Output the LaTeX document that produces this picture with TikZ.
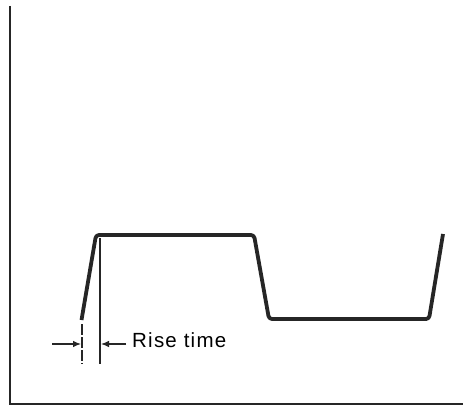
\documentclass[tikz,border=0pt]{standalone}
\usepackage{fontspec}
\setmainfont{Liberation Sans}[LetterSpace=6]
\usetikzlibrary{arrows.meta}
\begin{document}
\begin{tikzpicture}[x=1pt,y=-1pt,
  axis/.style={line width=2.4pt,draw=black!85},
  wave/.style={line width=3.8pt,draw=black!85,rounded corners=3pt,line join=round},
  guide/.style={line width=1.1pt,draw=black!85},
  dimarrow/.style={line width=1.1pt,draw=black!85,-{Latex[length=8pt,width=6.5pt]}},
  lbl/.style={inner sep=0pt,anchor=west,font=\fontsize{20.5}{24}\selectfont}]
\useasboundingbox (0,0) rectangle (463,406);
\fill[white] (0,0) rectangle (463,406);
% axes
\coordinate (ytop) at (10,6);
\coordinate (origin) at (10,404);
\coordinate (xend) at (463,404);
\draw[axis] (ytop) -- (origin) -- (xend);
% waveform
\coordinate (w0) at (81.5,320);
\coordinate (w1) at (96,235);
\coordinate (w2) at (254,235);
\coordinate (w3) at (269,319);
\coordinate (w4) at (429,319);
\coordinate (w5) at (443,234);
\draw[wave] (w0) -- (w1) -- (w2) -- (w3) -- (w4) -- (w5);
% guide lines
\coordinate (g1a) at (82,324);
\coordinate (g1b) at (82,364);
\coordinate (g2a) at (100,238);
\coordinate (g2b) at (100,364);
\draw[guide,dash pattern=on 11pt off 2pt] (g1a) -- (g1b);
\draw[guide] (g2a) -- (g2b);
% arrows
\coordinate (a1s) at (52,344);
\coordinate (a1e) at (81,344);
\coordinate (a2s) at (126,344);
\coordinate (a2e) at (101,344);
\draw[dimarrow] (a1s) -- (a1e);
\draw[dimarrow] (a2s) -- (a2e);
\node[lbl] (rise) at (132,340) {Rise time};
\end{tikzpicture}
\end{document}
